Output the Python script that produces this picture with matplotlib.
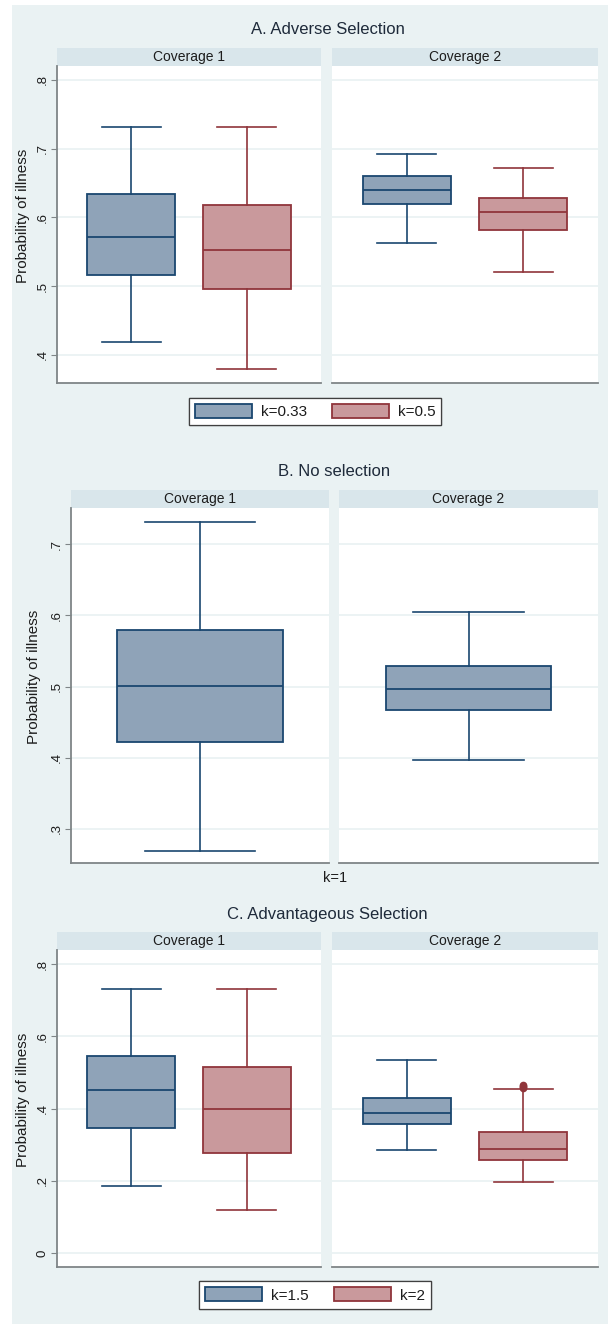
import matplotlib
matplotlib.use("Agg")
import matplotlib.pyplot as plt
from matplotlib.patches import Rectangle, Patch

plt.rcParams['font.family'] = ['Liberation Sans', 'DejaVu Sans']

# ---------------- data (whislo, q1, median, q3, whishi) ----------------
coverages = ["Coverage 1", "Coverage 2"]

A_title = "A. Adverse Selection"
A_groups = ["k=0.33", "k=0.5"]
A_cov1 = [[0.419, 0.5155, 0.572, 0.6335, 0.731],
          [0.379, 0.495, 0.552, 0.618, 0.731]]
A_cov2 = [[0.563, 0.619, 0.640, 0.660, 0.692],
          [0.520, 0.581, 0.607, 0.628, 0.671]]
A_fliers = [[[], []], [[], []]]
A_ticks = [0.4, 0.5, 0.6, 0.7, 0.8]
A_ticklabels = [".4", ".5", ".6", ".7", ".8"]

B_title = "B. No selection"
B_groups = ["k=1"]
B_cov1 = [[0.269, 0.422, 0.501, 0.580, 0.731]]
B_cov2 = [[0.397, 0.467, 0.497, 0.5295, 0.605]]
B_fliers = [[[]], [[]]]
B_ticks = [0.3, 0.4, 0.5, 0.6, 0.7]
B_ticklabels = [".3", ".4", ".5", ".6", ".7"]

C_title = "C. Advantageous Selection"
C_groups = ["k=1.5", "k=2"]
C_cov1 = [[0.185, 0.347, 0.451, 0.545, 0.731],
          [0.120, 0.277, 0.399, 0.514, 0.731]]
C_cov2 = [[0.286, 0.356, 0.388, 0.430, 0.535],
          [0.196, 0.256, 0.289, 0.335, 0.454]]
C_fliers = [[[], []], [[], [0.457, 0.460, 0.463, 0.466]]]
C_ticks = [0.0, 0.2, 0.4, 0.6, 0.8]
C_ticklabels = ["0", ".2", ".4", ".6", ".8"]

ylabel = "Probability of illness"

# ---------------- styles ----------------
W, H = 608, 1324
BG = "#eaf2f3"
STRIP = "#d9e6eb"
GRID = "#eaf2f3"
AXC = "#7f8587"
EDGES = ["#1a476f", "#90353b"]
FILLS = ["#8fa3b8", "#c9999c"]
TXT = "#1c1c1c"

fig = plt.figure(figsize=(W / 100, H / 100), dpi=100, facecolor="white")
fig.patches.append(Rectangle((12 / W, 0), 1 - 12 / W, 1 - 5 / H,
                             transform=fig.transFigure, facecolor=BG,
                             edgecolor="none", zorder=-10))


def px_axes(x0, y0, x1, y1):
    return fig.add_axes([x0 / W, 1 - y1 / H, (x1 - x0) / W, (y1 - y0) / H])


def ftext(x, y, s, **kw):
    fig.text(x / W, 1 - y / H, s, ha="center", va="center", **kw)


def draw_panel(xs, ytop, ybot, strip_h, title, title_y, data, fliers, ylim,
               ticks, ticklabels, ylabel_x, single=False):
    ftext((xs[0][0] + xs[1][1]) / 2, title_y, title, fontsize=12, color="#1e2a3a")
    for j, (x0, x1) in enumerate(xs):
        # strip
        sax = px_axes(x0, ytop - strip_h, x1, ytop)
        sax.set_facecolor(STRIP)
        sax.set_xticks([]); sax.set_yticks([])
        for s in sax.spines.values():
            s.set_visible(False)
        sax.text(0.5, 0.5, coverages[j], ha="center", va="center",
                 fontsize=10, color=TXT, transform=sax.transAxes)
        ax = px_axes(x0, ytop, x1, ybot)
        ax.set_facecolor("white")
        ax.set_ylim(*ylim)
        n = len(data[j])
        if single:
            pos = [1]
            ax.set_xlim(0.5, 1.5)
            bw, cw = 0.64, 0.43
        else:
            pos = [1, 2]
            ax.set_xlim(0.36, 2.64)
            bw, cw = 0.756, 0.51
        stats = []
        for i in range(n):
            lo, q1, med, q3, hi = data[j][i]
            stats.append(dict(whislo=lo, q1=q1, med=med, q3=q3, whishi=hi,
                              fliers=fliers[j][i]))
        res = ax.bxp(stats, positions=pos, widths=bw, capwidths=cw,
                     patch_artist=True, showfliers=True, zorder=3)
        for i in range(n):
            ec, fc = EDGES[i], FILLS[i]
            res['boxes'][i].set_facecolor(fc)
            res['boxes'][i].set_edgecolor(ec)
            res['boxes'][i].set_linewidth(1.3)
            res['medians'][i].set_color(ec)
            res['medians'][i].set_linewidth(1.3)
            for k in (2 * i, 2 * i + 1):
                res['whiskers'][k].set_color(ec)
                res['whiskers'][k].set_linewidth(1.2)
                res['caps'][k].set_color(ec)
                res['caps'][k].set_linewidth(1.2)
            f = res['fliers'][i]
            f.set_marker("o"); f.set_markersize(4.5)
            f.set_markerfacecolor(ec); f.set_markeredgecolor(ec)
        ax.set_yticks(ticks)
        ax.yaxis.grid(True, color=GRID, linewidth=1.3, zorder=0)
        ax.set_axisbelow(True)
        ax.set_xticks([])
        for s in ("top", "right"):
            ax.spines[s].set_visible(False)
        ax.spines["bottom"].set_color(AXC)
        ax.spines["bottom"].set_linewidth(1.3)
        if j == 0:
            ax.spines["left"].set_color(AXC)
            ax.spines["left"].set_linewidth(1.3)
            ax.set_yticklabels(ticklabels, rotation=90, va="center",
                               fontsize=9.5, color=TXT)
            ax.tick_params(axis="y", length=4, color=AXC, pad=2)
        else:
            ax.spines["left"].set_visible(False)
            ax.tick_params(axis="y", length=0, labelleft=False)
    ftext(ylabel_x, (ytop - strip_h + ybot) / 2, ylabel, rotation=90,
          fontsize=11, color=TXT)


# Panel A
draw_panel([(57, 321), (332, 598)], 66, 383, 18, A_title, 30,
           [A_cov1, A_cov2], A_fliers, (0.359, 0.820), A_ticks, A_ticklabels, 23)
# Panel B
draw_panel([(71, 329), (339, 598)], 508, 863, 18, B_title, 472,
           [B_cov1, B_cov2], B_fliers, (0.252, 0.751), B_ticks, B_ticklabels, 34,
           single=True)
ftext(335, 878, B_groups[0], fontsize=10.5, color=TXT)
# Panel C
draw_panel([(57, 321), (332, 598)], 950, 1267, 18, C_title, 914,
           [C_cov1, C_cov2], C_fliers, (-0.039, 0.839), C_ticks, C_ticklabels, 23)


def add_legend(labels, cx, cy):
    handles = [Patch(facecolor=FILLS[i], edgecolor=EDGES[i], linewidth=1.3)
               for i in range(len(labels))]
    leg = fig.legend(handles, labels, loc="center",
                     bbox_to_anchor=(cx / W, 1 - cy / H), ncol=2,
                     fontsize=11, handlelength=3.73, handleheight=1.0,
                     handletextpad=0.59, columnspacing=1.63, borderpad=0.4,
                     fancybox=False, frameon=True, framealpha=1)
    fr = leg.get_frame()
    fr.set_facecolor("white"); fr.set_edgecolor("#404040"); fr.set_linewidth(0.9)
    for t in leg.get_texts():
        t.set_color(TXT)
    fig.add_artist(leg)


add_legend(A_groups, 315, 411.5)
add_legend(C_groups, 315, 1295)

fig.savefig("out.png", dpi=100, facecolor="white")
